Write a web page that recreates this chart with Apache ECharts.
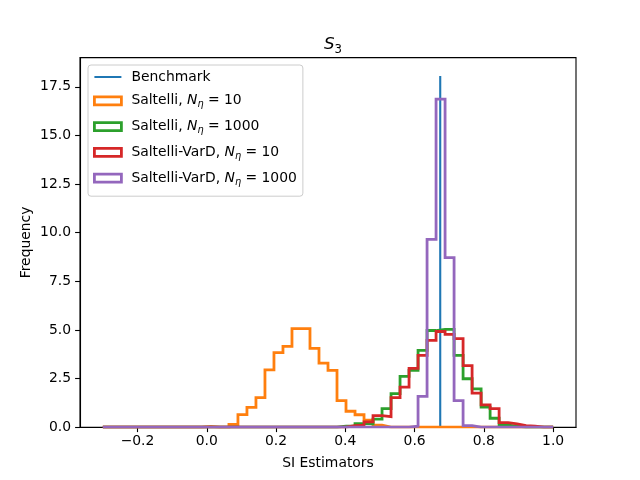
<!DOCTYPE html>
<html lang="en">

<head>
    <meta charset="UTF-8">
    <title>S3 histogram</title>
    <script src="https://cdn.jsdelivr.net/npm/echarts@6/dist/echarts.min.js"></script>
    <style>
        html, body { margin: 0; padding: 0; background: #fff; }
    </style>
</head>

<body>
    <div id="main" style="width: 640px;height:480px;"></div>
</body>
<script>
    // bins: 50 equal bins from -0.3 to 1.0
    var binStart = -0.3;
    var binEnd = 1.0;
    var binCount = 50;

    // benchmark value and the height of its vertical line
    var benchX = 0.674;
    var benchTop = 18.05;

    // histogram heights per bin (density)
    var saltelli10 = [0, 0, 0, 0, 0, 0, 0, 0, 0, 0,
        0, 0.04, 0, 0, 0.14, 0.65, 1.02, 1.52, 2.95, 3.83,
        4.15, 5.07, 5.07, 4.05, 3.29, 2.92, 1.37, 0.82, 0.64, 0.36,
        0.1, 0, 0, 0, 0, 0, 0, 0, 0, 0,
        0, 0, 0, 0, 0, 0, 0, 0, 0, 0];
    var saltelli1000 = [0, 0, 0, 0, 0, 0, 0, 0, 0, 0,
        0, 0, 0, 0, 0, 0, 0, 0, 0, 0,
        0, 0, 0, 0, 0, 0, 0.05, 0.05, 0.18, 0.17,
        0.42, 0.95, 1.73, 2.61, 2.92, 3.95, 4.97, 5.03, 5.03, 3.69,
        2.49, 1.97, 1.03, 0.46, 0.11, 0.06, 0, 0, 0, 0];
    var varD10 = [0, 0, 0, 0, 0, 0, 0, 0, 0, 0,
        0, 0, 0, 0, 0, 0, 0, 0, 0, 0,
        0, 0, 0, 0, 0, 0, 0, 0.08, 0.1, 0.27,
        0.6, 0.54, 1.52, 2.06, 3.02, 3.69, 4.46, 4.92, 4.77, 4.55,
        3.17, 1.75, 1.15, 0.95, 0.24, 0.17, 0.08, 0.06, 0, 0];
    var varD1000 = [0, 0, 0, 0, 0, 0, 0, 0, 0, 0,
        0, 0, 0, 0, 0, 0, 0, 0, 0, 0,
        0, 0, 0, 0, 0, 0, 0, 0, 0, 0,
        0, 0, 0, 0, 0.05, 1.58, 9.66, 16.87, 8.72, 1.37,
        0.08, 0, 0, 0, 0, 0, 0, 0, 0, 0];

    // tick labels
    var xTicks = [-0.2, 0.0, 0.2, 0.4, 0.6, 0.8, 1.0];
    var yTicks = [0, 2.5, 5, 7.5, 10, 12.5, 15, 17.5];

    var seriesNames = ['Benchmark', 'Saltelli, Nη = 10', 'Saltelli, Nη = 1000',
        'Saltelli-VarD, Nη = 10', 'Saltelli-VarD, Nη = 1000'];
    var colors = ['#1f77b4', '#ff7f0e', '#2ca02c', '#d62728', '#9467bd'];

    var font = 'DejaVu Sans';

    // outline of a step histogram: up and down at every bin edge
    function stepOutline(heights) {
        var w = (binEnd - binStart) / binCount;
        var pts = [[binStart, 0]];
        for (var i = 0; i < heights.length; i++) {
            var x0 = binStart + i * w, x1 = binStart + (i + 1) * w;
            pts.push([x0, heights[i]]);
            pts.push([x1, heights[i]]);
        }
        pts.push([binEnd, 0]);
        return pts;
    }

    function histSeries(name, color, heights) {
        return {
            name: name,
            type: 'line',
            data: stepOutline(heights),
            symbol: 'none',
            color: color,
            lineStyle: { color: color, width: 2.8, join: 'miter', cap: 'butt' },
            animation: false
        };
    }

    var legendText = {};
    legendText[seriesNames[0]] = '{t|Benchmark}';
    legendText[seriesNames[1]] = '{t|Saltelli, }{i|N}{s|η}{t| = 10}';
    legendText[seriesNames[2]] = '{t|Saltelli, }{i|N}{s|η}{t| = 1000}';
    legendText[seriesNames[3]] = '{t|Saltelli-VarD, }{i|N}{s|η}{t| = 10}';
    legendText[seriesNames[4]] = '{t|Saltelli-VarD, }{i|N}{s|η}{t| = 1000}';

    var legendData = [{
        name: seriesNames[0],
        icon: 'path://M0,0 L28,0 L28,2.1 L0,2.1 Z',
        itemStyle: { color: colors[0], borderWidth: 0 }
    }];
    for (var k = 1; k < seriesNames.length; k++) {
        legendData.push({
            name: seriesNames[k],
            icon: 'rect',
            itemStyle: { color: 'rgba(0,0,0,0)', borderColor: colors[k], borderWidth: 2.8 }
        });
    }

    var myChart = echarts.init(document.getElementById('main'), null, { renderer: 'canvas' });

    var option = {
        backgroundColor: '#fff',
        animation: false,
        title: {
            text: '{i|S}{s|3}',
            left: 328,
            textAlign: 'center',
            top: 29,
            textStyle: {
                fontWeight: 'normal',
                rich: {
                    i: { fontFamily: font, fontSize: 16.7, fontStyle: 'italic', fontWeight: 'normal', color: '#000', lineHeight: 22 },
                    s: { fontFamily: font, fontSize: 11.7, fontWeight: 'normal', color: '#000', verticalAlign: 'bottom' }
                }
            }
        },
        legend: {
            orient: 'vertical',
            left: 88,
            top: 65,
            data: legendData,
            itemWidth: 27,
            itemHeight: 8,
            itemGap: 9.8,
            padding: [5, 6, 9, 5],
            backgroundColor: 'rgba(255,255,255,0.8)',
            borderColor: '#cccccc',
            borderWidth: 1,
            borderRadius: 3,
            selectedMode: false,
            formatter: function (name) { return legendText[name]; },
            textStyle: {
                padding: [0, 0, 0, 5],
                rich: {
                    t: { fontFamily: font, fontSize: 13.9, color: '#000', lineHeight: 18 },
                    i: { fontFamily: font, fontSize: 13.9, color: '#000', fontStyle: 'italic', lineHeight: 18 },
                    s: { fontFamily: font, fontSize: 9.7, color: '#000', fontStyle: 'italic', verticalAlign: 'bottom' }
                }
            }
        },
        grid: {
            left: 80,
            right: 64,
            top: 57.6,
            bottom: 52.8,
            show: true,
            borderColor: '#000',
            borderWidth: 1.1,
            backgroundColor: 'rgba(0,0,0,0)',
            outerBoundsMode: 'none'
        },
        xAxis: {
            type: 'value',
            min: -0.366,
            max: 1.066,
            name: 'SI Estimators',
            nameLocation: 'middle',
            nameGap: 29,
            nameMoveOverlap: false,
            nameTextStyle: { fontFamily: font, fontSize: 13.9, color: '#000' },
            axisLine: { onZero: false, lineStyle: { color: '#000', width: 1.1 } },
            axisTick: { customValues: xTicks, length: 4.9, lineStyle: { color: '#000', width: 1.1 } },
            axisLabel: {
                customValues: xTicks,
                margin: 7,
                fontFamily: font,
                fontSize: 13.9,
                color: '#000',
                formatter: function (v) { return (v < -1e-9 ? '\u2212' : '') + Math.abs(v).toFixed(1); }
            },
            splitLine: { show: false }
        },
        yAxis: {
            type: 'value',
            min: 0,
            max: 19.0,
            name: 'Frequency',
            nameLocation: 'middle',
            nameRotate: 90,
            nameGap: 47,
            nameMoveOverlap: false,
            nameTextStyle: { fontFamily: font, fontSize: 13.9, color: '#000' },
            axisLine: { show: true, onZero: false, lineStyle: { color: '#000', width: 1.1 } },
            axisTick: { show: true, customValues: yTicks, length: 4.9, lineStyle: { color: '#000', width: 1.1 } },
            axisLabel: {
                customValues: yTicks,
                margin: 9,
                fontFamily: font,
                fontSize: 13.9,
                color: '#000',
                formatter: function (v) { return v.toFixed(1); }
            },
            splitLine: { show: false }
        },
        series: [
            {
                name: seriesNames[0],
                type: 'line',
                data: [[benchX, 0], [benchX, benchTop]],
                symbol: 'none',
                color: colors[0],
                lineStyle: { color: colors[0], width: 2.1, cap: 'butt' }
            },
            histSeries(seriesNames[1], colors[1], saltelli10),
            histSeries(seriesNames[2], colors[2], saltelli1000),
            histSeries(seriesNames[3], colors[3], varD10),
            histSeries(seriesNames[4], colors[4], varD1000)
        ]
    };

    myChart.setOption(option);
</script>

</html>
